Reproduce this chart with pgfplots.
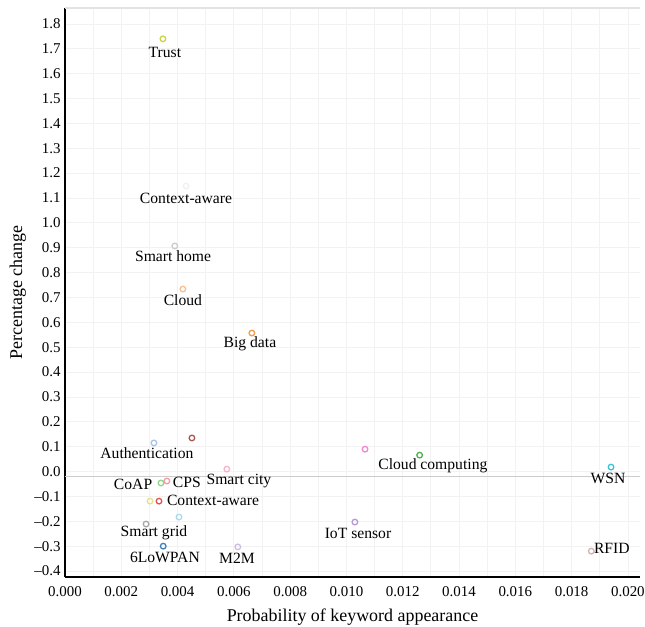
\documentclass[border=0pt]{standalone}
\usepackage{fontspec}
\setmainfont{Liberation Serif}
\usepackage{pgfplots}
\usepackage{pgfplotstable}
\pgfplotsset{compat=1.18}

\definecolor{ctrust}{HTML}{C8D34A}
\definecolor{cctxtop}{HTML}{F0F0F0}
\definecolor{csmarthome}{HTML}{CCCCCC}
\definecolor{ccloud}{HTML}{FBBF8E}
\definecolor{cbigdata}{HTML}{F39A4C}
\definecolor{cauth}{HTML}{A6C3EC}
\definecolor{cbrown}{HTML}{A9574A}
\definecolor{csmartcity}{HTML}{F8B4C6}
\definecolor{ccoap}{HTML}{8FD68A}
\definecolor{ccps}{HTML}{F29A9E}
\definecolor{cyellow}{HTML}{E3E08E}
\definecolor{cctxred}{HTML}{E35050}
\definecolor{ccyanl}{HTML}{A8DCEA}
\definecolor{csmartgrid}{HTML}{A6A6A6}
\definecolor{clowpan}{HTML}{3E7FBF}
\definecolor{cmtm}{HTML}{CDBEE0}
\definecolor{cpink}{HTML}{EF86D5}
\definecolor{ccloudcomp}{HTML}{4CB34C}
\definecolor{cwsn}{HTML}{35C3D6}
\definecolor{ciot}{HTML}{B69AD9}
\definecolor{crfid}{HTML}{D9AFAF}

\pgfplotstableread[col sep=comma]{
x,y,label
0.00355,1.687,Trust
0.00430,1.100,Context-aware
0.00384,0.867,Smart home
0.00419,0.690,Cloud
0.00657,0.513,Big data
0.00291,0.074,Authentication
0.00618,-0.038,Smart city
0.00242,-0.050,CoAP
0.00433,-0.042,CPS
0.00526,-0.115,Context-aware
0.00316,-0.247,Smart grid
0.00355,-0.344,6LoWPAN
0.00611,-0.348,M2M
0.01307,0.022,Cloud computing
0.01929,-0.026,WSN
0.01041,-0.247,IoT sensor
0.01943,-0.308,RFID
}\labeltable

\pgfplotsset{pt/.style={only marks, mark=o, mark size=2.8bp, line width=1.3bp, color=#1}}

\begin{document}
\begin{tikzpicture}
\begin{axis}[
  scale only axis,
  width=575bp, height=569bp,
  xmin=0, xmax=0.02043,
  ymin=-0.424, ymax=1.864,
  axis lines*=left,
  axis line style={black, line width=1.3bp, -},
  xtick={0,0.002,0.004,0.006,0.008,0.010,0.012,0.014,0.016,0.018,0.020},
  xticklabels={0.000,0.002,0.004,0.006,0.008,0.010,0.012,0.014,0.016,0.018,0.020},
  minor xtick={0.001,0.003,0.005,0.007,0.009,0.011,0.013,0.015,0.017,0.019},
  ytick={-0.4,-0.3,-0.2,-0.1,0,0.1,0.2,0.3,0.4,0.5,0.6,0.7,0.8,0.9,1.0,1.1,1.2,1.3,1.4,1.5,1.6,1.7,1.8},
  yticklabels={–0.4,–0.3,–0.2,–0.1,0.0,0.1,0.2,0.3,0.4,0.5,0.6,0.7,0.8,0.9,1.0,1.1,1.2,1.3,1.4,1.5,1.6,1.7,1.8},
  scaled x ticks=false,
  major tick length=0pt, minor tick length=0pt,
  grid=both,
  major grid style={gray!10, line width=0.8bp},
  minor grid style={gray!10, line width=0.8bp},
  tick label style={font=\fontsize{15}{17}\selectfont},
  yticklabel style={anchor=east, xshift=-1bp},
  xticklabel style={anchor=north, yshift=-6bp},
  xlabel={Probability of keyword appearance},
  ylabel={Percentage change},
  label style={font=\fontsize{18}{21}\selectfont},
  xlabel style={at={(axis description cs:0.5,-0.0703)}, anchor=center},
  ylabel style={at={(axis description cs:-0.082,0.5)}, anchor=center},
  clip=false,
]
\draw[gray!22, line width=1.2bp] (rel axis cs:0,1) -- (rel axis cs:1,1);
\addplot[mark=none, draw=gray!40, line width=1.2bp] coordinates {(0,-0.02) (0.02043,-0.02)};

\addplot[pt=ctrust] coordinates {(0.00348,1.740)};
\addplot[pt=cctxtop] coordinates {(0.00430,1.148)};
\addplot[pt=csmarthome] coordinates {(0.00390,0.907)};
\addplot[pt=ccloud] coordinates {(0.00419,0.734)};
\addplot[pt=cbigdata] coordinates {(0.00664,0.557)};
\addplot[pt=cauth] coordinates {(0.00316,0.115)};
\addplot[pt=cbrown] coordinates {(0.00451,0.135)};
\addplot[pt=csmartcity] coordinates {(0.00575,0.010)};
\addplot[pt=ccoap] coordinates {(0.00341,-0.046)};
\addplot[pt=ccps] coordinates {(0.00362,-0.038)};
\addplot[pt=cyellow] coordinates {(0.00302,-0.119)};
\addplot[pt=cctxred] coordinates {(0.00334,-0.119)};
\addplot[pt=ccyanl] coordinates {(0.00405,-0.183)};
\addplot[pt=csmartgrid] coordinates {(0.00288,-0.211)};
\addplot[pt=clowpan] coordinates {(0.00349,-0.300)};
\addplot[pt=cmtm] coordinates {(0.00614,-0.303)};
\addplot[pt=cpink] coordinates {(0.01066,0.090)};
\addplot[pt=ccloudcomp] coordinates {(0.01260,0.066)};
\addplot[pt=cwsn] coordinates {(0.01940,0.018)};
\addplot[pt=ciot] coordinates {(0.01030,-0.203)};
\addplot[pt=crfid] coordinates {(0.01870,-0.320)};

\addplot[only marks, mark=*, mark size=0pt, mark options={draw=none, fill=none},
  nodes near coords, point meta=explicit symbolic,
  nodes near coords align=center,
  every node near coord/.append style={font=\fontsize{15.7}{18}\selectfont, inner sep=0pt, anchor=center, text=black}]
  table[x=x, y=y, meta=label]{\labeltable};
\end{axis}
\pgfresetboundingbox
\path[use as bounding box] (current axis.south west) ++(-65bp,-50bp) rectangle ++(645bp,627bp);
\end{tikzpicture}
\end{document}
